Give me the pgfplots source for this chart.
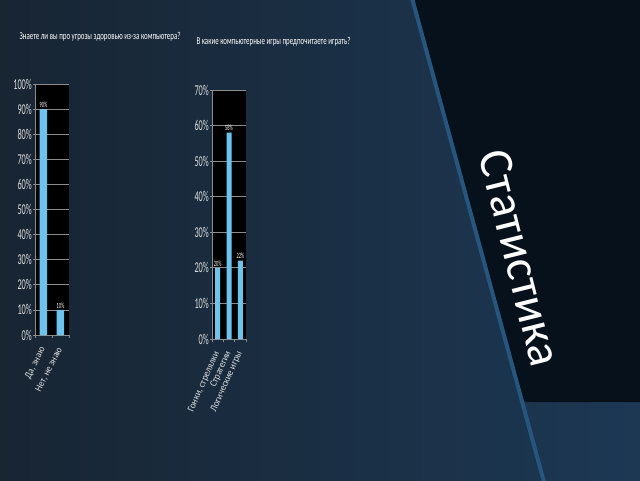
\documentclass[border=0pt]{standalone}
\usepackage{fontspec}
\setmainfont{Carlito}
\newfontfamily\narrowf[FakeStretch=0.55]{Carlito}
\newfontfamily\titlef[FakeStretch=0.66]{Carlito}
\newfontfamily\catf[FakeStretch=0.9]{Carlito}
\usepackage{pgfplots}
\pgfplotsset{compat=1.18}

\definecolor{bgL}{RGB}{24,37,51}
\definecolor{bgR}{RGB}{28,56,84}
\definecolor{panel}{RGB}{6,17,28}
\definecolor{linecol}{RGB}{38,86,125}
\definecolor{barblue}{RGB}{108,196,238}
\definecolor{gridgray}{RGB}{140,140,140}
\definecolor{labelgray}{RGB}{220,220,220}

\pgfplotsset{
  slide/.style={
    scale only axis, ybar, anchor=south west,
    /pgf/number format/assume math mode=true,
    axis background/.style={fill=black},
    axis x line*=bottom, axis y line*=left,
    axis line style={draw=gridgray, line width=0.8pt, -},
    ymajorgrids, grid style={draw=gridgray, line width=0.8pt},
    ymin=0, enlarge x limits=false,
    tick align=outside, major tick length=2pt, minor tick length=3pt,
    y tick style={draw=gridgray, line width=0.8pt},
    major x tick style={draw=none},
    minor x tick style={draw=gridgray, line width=0.8pt},
    yticklabel={\pgfmathprintnumber{\tick}\%},
    yticklabel style={font=\narrowf\fontsize{15}{15}\selectfont, text=labelgray, inner sep=1pt},
    xticklabel style={font=\catf\fontsize{10}{10}\selectfont, text=labelgray, anchor=east, inner sep=1pt, yshift=-10pt},
    nodes near coords={\pgfmathprintnumber\pgfplotspointmeta\%},
    every node near coord/.style={font=\narrowf\fontsize{8}{8}\selectfont, text=white, inner sep=1.5pt},
  }
}

\begin{document}
\begin{tikzpicture}[x=1pt,y=1pt]
\useasboundingbox (0,0) rectangle (640,480);
% background of the slide
\shade[left color=bgL, right color=bgR] (0,0) rectangle (640,480);
\fill[panel] (412,480) -- (518.5,89.6) .. controls (521.7,78) .. (534,78) -- (640,78) -- (640,480) -- cycle;
\draw[linecol, line width=4pt] (412,482) -- (544,-2);
\node[rotate=-76, text=white, font=\fontsize{48}{48}\selectfont] at (520,222) {Статистика};

% titles
\node[anchor=west, text=white, font=\titlef\fontsize{10.5}{12}\selectfont] at (16,443) {Знаете ли вы про угрозы здоровью из-за компьютера?};
\node[anchor=west, text=white, font=\titlef\fontsize{10.5}{12}\selectfont] at (193,438) {В какие компьютерные игры предпочитаете играть?};

\begin{axis}[slide, at={(35pt,145pt)}, width=34pt, height=251pt,
    xmin=-0.5, xmax=1.5, ymax=100, ytick={0,10,...,100},
    xtick={0,1}, xticklabels={{Да, знаю},{Нет, не знаю}},
    minor xtick={-0.5,0.5,1.5}, bar width=7.5pt,
    xticklabel style={rotate=63}]
\addplot[fill=barblue, draw=none] coordinates {(0,90) (1,10)};
\end{axis}

\begin{axis}[slide, at={(212pt,141pt)}, width=34pt, height=249pt,
    xmin=-0.5, xmax=2.5, ymax=70, ytick={0,10,...,70},
    xtick={0,1,2}, xticklabels={{Гонки, стрелялки},Стратегии,Логические игры},
    minor xtick={-0.5,0.5,1.5,2.5}, bar width=5pt,
    xticklabel style={rotate=66}]
\addplot[fill=barblue, draw=none] coordinates {(0,20) (1,58) (2,22)};
\end{axis}
\end{tikzpicture}
\end{document}
